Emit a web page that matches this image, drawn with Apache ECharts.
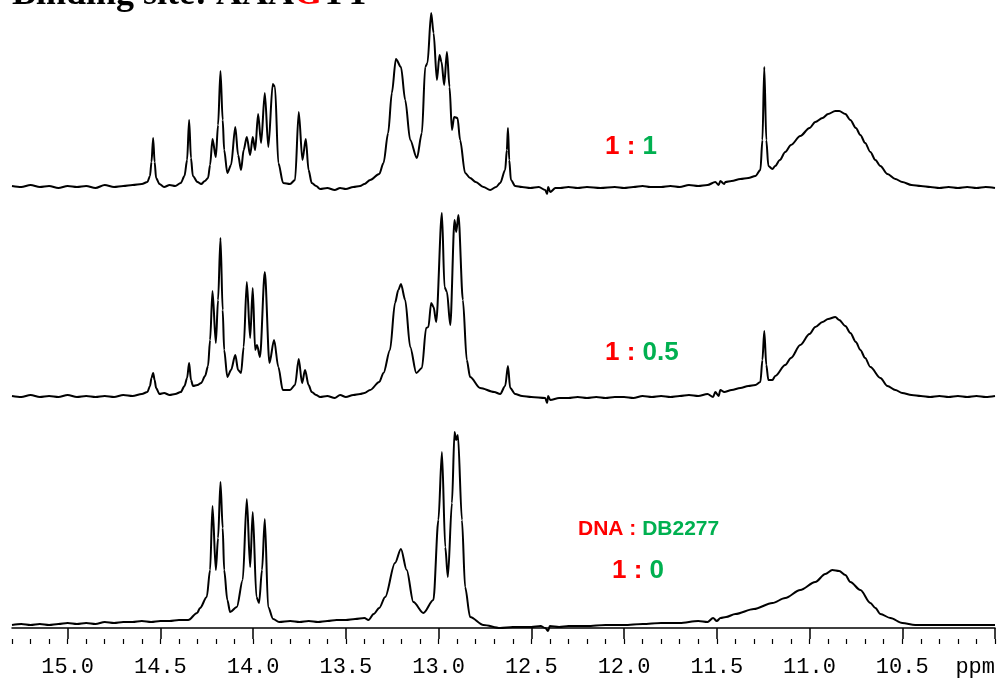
<!DOCTYPE html>
<html><head><meta charset="utf-8">
<script src="https://cdn.jsdelivr.net/npm/echarts@6/dist/echarts.min.js"></script>
<style>html,body{margin:0;padding:0;background:#fff}#c{width:999px;height:683px}</style>
</head><body><div id="c"></div>
<script>
// ppm range and tick labels
const ppmMin = 10.0, ppmMax = 15.3;
const tickLabels = ['15.0','14.5','14.0','13.5','13.0','12.5','12.0','11.5','11.0','10.5'];
const unitLabel = 'ppm';
const ratioLabels = [['1 : ','1'],['1 : ','0.5'],['1 : ','0']];
const legendLabel = ['DNA : ','DB2277'];
const titleParts = ['Binding site: AAA','G','TT'];

// spectrum DNA:DB2277 = 1:1  [ppm, intensity]
const spec11 = [[15.30,4],[15.25,3],[15.20,5],[15.15,3],[15.10,4],[15.05,2],[15.00,4],[14.95,3],[14.90,4],[14.85,2],[14.80,5],[14.75,3],[14.70,4],[14.65,5],[14.60,6],
[14.570,8],[14.556,14],[14.548,28],[14.539,52],[14.531,28],[14.523,12],[14.505,6],[14.48,3],[14.45,5],[14.42,4],[14.39,7],[14.37,14],[14.356,30],[14.345,70],[14.335,32],[14.325,14],[14.30,8],[14.28,6],[14.26,9],
[14.243,12],[14.232,25],[14.219,51],[14.201,33],[14.189,65],[14.176,119],[14.164,70],[14.156,40],[14.139,17],[14.119,25],[14.096,63],[14.081,35],[14.065,20],[14.051,40],[14.034,53],[14.016,35],[14.002,53],[13.989,40],[13.973,76],[13.957,47],[13.937,97],[13.918,43],[13.894,106],[13.882,103],[13.864,27],[13.838,7],[13.801,6],[13.774,10],[13.754,78],[13.734,30],[13.716,51],[13.701,20],[13.684,7],[13.66,4],[13.639,1],[13.60,2],[13.56,0],[13.531,2],[13.50,1],[13.46,3],[13.423,4],[13.40,6],[13.369,10],[13.32,16],[13.297,27],[13.272,57],[13.252,97],[13.230,131],[13.203,123],[13.180,90],[13.153,50],[13.117,32],[13.090,57],[13.072,123],[13.060,127],[13.040,177],[13.027,157],[13.009,110],[12.995,135],[12.984,128],[12.970,105],[12.955,138],[12.941,103],[12.928,60],[12.916,73],[12.898,72],[12.884,50],[12.857,17],[12.830,12],[12.80,8],[12.758,3],[12.722,0],[12.69,3],[12.668,7],[12.641,20],[12.632,40],[12.626,62],[12.619,30],[12.610,10],[12.587,4],[12.55,3],[12.506,2],[12.46,3],[12.425,0],[12.415,-4],[12.409,3],[12.398,-2],[12.37,2],[12.344,2],[12.30,3],[12.25,2],[12.20,3],[12.128,2],[12.05,3],[12.00,2],[11.95,3],[11.90,4],[11.859,3],[11.80,3],[11.75,4],[11.70,3],[11.65,5],[11.60,4],[11.55,5],[11.508,8],[11.49,5],[11.481,9],[11.46,6],[11.454,8],[11.42,9],[11.373,11],[11.33,12],[11.292,14],[11.265,20],[11.254,50],[11.244,123],[11.233,50],[11.222,24],[11.20,21],[11.185,24],[11.16,30],[11.131,38],[11.10,45],[11.05,54],[11.00,62],[10.969,68],[10.93,72],[10.90,76],[10.861,79],[10.84,79],[10.807,76],[10.78,70],[10.75,62],[10.726,55],[10.70,47],[10.672,38],[10.645,30],[10.618,24],[10.58,16],[10.537,11],[10.50,8],[10.45,5],[10.40,4],[10.349,3],[10.30,2],[10.25,3],[10.20,2],[10.15,3],[10.10,2],[10.05,3],[10.00,2]];

// spectrum DNA:DB2277 = 1:0.5
const spec105 = [[15.30,4],[15.25,3],[15.20,5],[15.15,3],[15.10,4],[15.05,3],[15.00,5],[14.95,3],[14.90,4],[14.85,3],[14.80,4],[14.75,3],[14.70,5],[14.65,4],[14.60,6],
[14.57,8],[14.556,14],[14.548,22],[14.539,27],[14.531,20],[14.523,12],[14.505,6],[14.48,7],[14.45,5],[14.42,6],[14.39,8],[14.37,14],[14.356,22],[14.345,37],[14.335,20],[14.324,14],[14.30,15],[14.28,17],[14.259,24],[14.243,34],[14.232,60],[14.219,109],[14.201,57],[14.189,100],[14.176,162],[14.164,90],[14.156,50],[14.139,23],[14.119,30],[14.096,45],[14.081,30],[14.065,27],[14.051,53],[14.034,118],[14.016,62],[14.002,112],[13.989,50],[13.979,55],[13.963,43],[13.937,128],[13.912,37],[13.887,60],[13.864,33],[13.840,10],[13.801,10],[13.774,15],[13.754,41],[13.736,17],[13.720,30],[13.701,15],[13.684,8],[13.66,5],[13.639,3],[13.60,4],[13.56,2],[13.531,5],[13.50,3],[13.46,5],[13.423,6],[13.40,7],[13.369,10],[13.32,18],[13.297,27],[13.262,50],[13.235,97],[13.217,110],[13.203,116],[13.180,100],[13.153,53],[13.120,27],[13.090,32],[13.067,72],[13.055,73],[13.040,97],[13.027,93],[13.013,78],[12.982,187],[12.968,113],[12.955,108],[12.937,75],[12.914,180],[12.905,168],[12.893,185],[12.869,100],[12.848,40],[12.830,23],[12.776,12],[12.70,8],[12.668,6],[12.641,14],[12.626,34],[12.614,12],[12.587,6],[12.55,4],[12.50,3],[12.425,2],[12.415,-3],[12.409,4],[12.398,0],[12.35,2],[12.30,2],[12.25,3],[12.20,2],[12.15,3],[12.10,2],[12.05,3],[12.00,3],[11.95,2],[11.90,4],[11.85,3],[11.80,4],[11.75,3],[11.70,4],[11.65,5],[11.60,4],[11.55,6],[11.52,3],[11.508,8],[11.49,4],[11.481,10],[11.46,8],[11.42,10],[11.373,12],[11.33,14],[11.292,15],[11.265,18],[11.254,40],[11.244,69],[11.233,35],[11.222,20],[11.20,20],[11.185,24],[11.131,35],[11.10,42],[11.05,55],[11.00,66],[10.969,73],[10.93,78],[10.90,81],[10.861,83],[10.84,80],[10.807,74],[10.78,67],[10.75,58],[10.726,50],[10.70,42],[10.672,33],[10.618,22],[10.58,14],[10.537,10],[10.50,7],[10.45,5],[10.40,4],[10.35,3],[10.30,4],[10.25,3],[10.20,4],[10.15,3],[10.10,4],[10.05,3],[10.00,4]];

// spectrum DNA:DB2277 = 1:0
const spec10 = [[15.30,3],[15.25,4],[15.20,3],[15.15,4],[15.10,3],[15.05,4],[15.00,5],[14.95,4],[14.90,5],[14.85,4],[14.80,6],[14.75,5],[14.70,6],[14.65,6],[14.60,7],[14.55,6],[14.50,7],[14.45,7],[14.40,8],[14.35,8],
[14.302,15],[14.286,20],[14.250,31],[14.232,58],[14.219,122],[14.201,58],[14.189,90],[14.176,146],[14.164,100],[14.156,58],[14.139,28],[14.124,16],[14.088,21],[14.056,48],[14.034,129],[14.016,61],[14.002,116],[13.982,31],[13.968,25],[13.952,58],[13.937,109],[13.919,21],[13.892,9],[13.86,6],[13.80,7],[13.75,6],[13.70,7],[13.65,6],[13.60,7],[13.55,8],[13.50,8],[13.45,9],[13.40,10],[13.378,8],[13.35,14],[13.32,20],[13.288,31],[13.235,65],[13.203,79],[13.172,58],[13.136,26],[13.082,15],[13.028,28],[13.001,108],[12.982,176],[12.964,81],[12.950,51],[12.928,125],[12.914,196],[12.905,188],[12.896,193],[12.874,108],[12.857,41],[12.830,11],[12.758,3],[12.668,0],[12.60,1],[12.50,1],[12.45,2],[12.425,0],[12.41,-3],[12.40,2],[12.35,1],[12.30,2],[12.20,2],[12.10,3],[12.00,3],[11.90,4],[11.80,5],[11.70,5],[11.60,7],[11.55,6],[11.52,10],[11.50,7],[11.48,10],[11.45,11],[11.40,14],[11.30,19],[11.20,25],[11.131,30],[11.05,38],[10.969,46],[10.915,54],[10.877,58],[10.84,57],[10.807,53],[10.78,46],[10.726,38],[10.672,25],[10.645,20],[10.618,14],[10.564,10],[10.50,5],[10.43,3],[10.35,3],[10.25,3],[10.15,3],[10.00,3]];

const majorTicks = tickLabels.map(Number).concat([ppmMin]);
const minorTicks = [];
for (let k = 0; k <= Math.round((ppmMax - ppmMin) * 10); k++) minorTicks.push(+(ppmMin + k * 0.1).toFixed(1));

const chart = echarts.init(document.getElementById('c'), null, {renderer: 'canvas'});
const RED = '#ff0000', GREEN = '#00b050';
const hiddenX = (gi) => ({gridIndex: gi, type: 'value', min: ppmMin, max: ppmMax, inverse: true, show: false});
const yAx = (gi, mn, mx) => ({gridIndex: gi, type: 'value', min: mn, max: mx, show: false});
const lineSeries = (xi, data) => ({type: 'line', xAxisIndex: xi, yAxisIndex: Math.min(xi, 2), data: data, showSymbol: false, symbol: 'none', clip: false,
  smooth: 0.3, smoothMonotone: 'x',
  lineStyle: {color: '#000', width: 2, join: 'round'}, animation: false});

chart.setOption({
  animation: false,
  backgroundColor: '#fff',
  grid: [
    {left: 12, right: 4, top: 10, height: 190},
    {left: 12, right: 4, top: 210, height: 200},
    {left: 12, right: 4, top: 418, height: 221}
  ],
  xAxis: [
    hiddenX(0), hiddenX(1),
    {gridIndex: 2, type: 'value', min: ppmMin, max: ppmMax, inverse: true, position: 'bottom',
      axisLine: {show: true, lineStyle: {color: '#000', width: 1.5}},
      axisTick: {show: true, customValues: majorTicks, length: 11, lineStyle: {color: '#000', width: 1.5}},
      axisLabel: {show: true, customValues: tickLabels.map(Number), margin: 17, color: '#000',
        fontFamily: '"Liberation Mono", "DejaVu Sans Mono", monospace', fontSize: 22,
        formatter: (v) => tickLabels.find(t => Math.abs(Number(t) - v) < 1e-6) || ''},
      splitLine: {show: false}},
    {gridIndex: 2, type: 'value', min: ppmMin, max: ppmMax, inverse: true, position: 'bottom',
      axisLine: {show: false},
      axisTick: {show: true, customValues: minorTicks, length: 5, lineStyle: {color: '#000', width: 1.2}},
      axisLabel: {show: false}, splitLine: {show: false}}
  ],
  yAxis: [yAx(0, -10, 180), yAx(1, -10, 190), yAx(2, -11, 210)],
  series: [lineSeries(0, spec11), lineSeries(1, spec105), lineSeries(2, spec10)],
  graphic: [
    {type: 'text', x: 12, y: -5, style: {text: '{k|' + titleParts[0] + '}{r|' + titleParts[1] + '}{k|' + titleParts[2] + '}',
      verticalAlign: 'middle', align: 'left',
      rich: {k: {fill: '#000', font: 'bold 36px "Liberation Serif", serif'}, r: {fill: RED, font: 'bold 36px "Liberation Serif", serif'}}}},
    {type: 'text', x: 605, y: 147, style: {text: '{r|' + ratioLabels[0][0] + '}{g|' + ratioLabels[0][1] + '}', verticalAlign: 'middle', align: 'left',
      rich: {r: {fill: RED, font: 'bold 26px "Liberation Sans", Arial, sans-serif'}, g: {fill: GREEN, font: 'bold 26px "Liberation Sans", Arial, sans-serif'}}}},
    {type: 'text', x: 605, y: 353, style: {text: '{r|' + ratioLabels[1][0] + '}{g|' + ratioLabels[1][1] + '}', verticalAlign: 'middle', align: 'left',
      rich: {r: {fill: RED, font: 'bold 26px "Liberation Sans", Arial, sans-serif'}, g: {fill: GREEN, font: 'bold 26px "Liberation Sans", Arial, sans-serif'}}}},
    {type: 'text', x: 578, y: 529, style: {text: '{r|' + legendLabel[0] + '}{g|' + legendLabel[1] + '}', verticalAlign: 'middle', align: 'left',
      rich: {r: {fill: RED, font: 'bold 21px "Liberation Sans", Arial, sans-serif'}, g: {fill: GREEN, font: 'bold 21px "Liberation Sans", Arial, sans-serif'}}}},
    {type: 'text', x: 612, y: 571, style: {text: '{r|' + ratioLabels[2][0] + '}{g|' + ratioLabels[2][1] + '}', verticalAlign: 'middle', align: 'left',
      rich: {r: {fill: RED, font: 'bold 26px "Liberation Sans", Arial, sans-serif'}, g: {fill: GREEN, font: 'bold 26px "Liberation Sans", Arial, sans-serif'}}}},
    {type: 'text', x: 995, y: 667, style: {text: unitLabel, verticalAlign: 'middle', align: 'right', fill: '#000',
      font: '22px "Liberation Mono", "DejaVu Sans Mono", monospace'}}
  ]
});
</script></body></html>
